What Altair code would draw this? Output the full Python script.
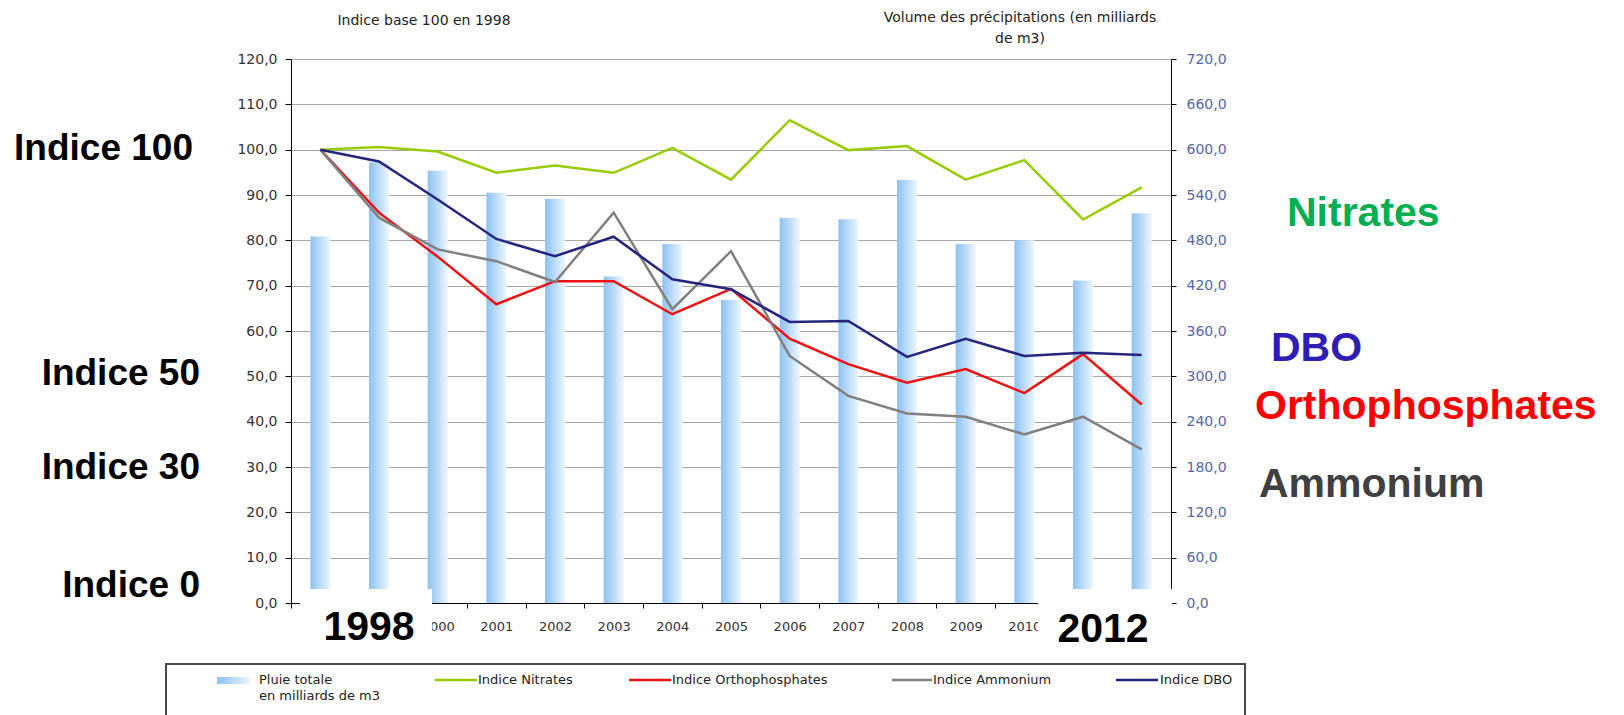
import altair as alt
import pandas as pd

# ---------------- data ----------------
years = ["1998", "1999", "2000", "2001", "2002", "2003", "2004", "2005",
         "2006", "2007", "2008", "2009", "2010", "2011", "2012"]
rain = [485, 583, 572, 543, 535, 432, 475, 401, 510, 508, 560, 475, 480, 427, 516]
nitrates = [100.0, 100.6, 99.6, 94.9, 96.5, 94.9, 100.4, 93.4, 106.5, 99.9, 100.8, 93.4, 97.7, 84.6, 91.7]
ortho = [100.0, 86.1, 76.4, 65.9, 71.0, 71.0, 63.7, 69.3, 58.3, 52.7, 48.6, 51.6, 46.3, 54.9, 43.8]
ammonium = [100.0, 85.0, 78.0, 75.4, 70.8, 86.1, 64.8, 77.6, 54.5, 45.7, 41.8, 41.1, 37.2, 41.1, 33.9]
dbo = [100.0, 97.4, 89.0, 80.3, 76.5, 80.8, 71.4, 69.2, 62.0, 62.2, 54.3, 58.3, 54.5, 55.2, 54.7]

series_names = ["Indice Nitrates", "Indice Orthophosphates", "Indice Ammonium", "Indice DBO"]
series_colors = ["#99cc00", "#ee1111", "#808080", "#25257f"]
left_ticks = [0, 10, 20, 30, 40, 50, 60, 70, 80, 90, 100, 110, 120]
right_ticks = [0, 60, 120, 180, 240, 300, 360, 420, 480, 540, 600, 660, 720]
masked_years = ["1998", "1999", "2011", "2012"]  # small axis labels hidden under the white boxes

bar_df = pd.DataFrame({"year": years, "rain": rain})
line_df = pd.DataFrame({
    "year": years * 4,
    "value": nitrates + ortho + ammonium + dbo,
    "series": sum([[n] * len(years) for n in series_names], []),
    "ord": sum([[i] * len(years) for i in range(4)], []),
})
one = pd.DataFrame({"k": [0]})

SMALL = "DejaVu Sans"
BIG = "Liberation Sans"
comma_fmt = "replace(format(datum.value, '.1f'), '.', ',')"
x_label_expr = "indexof(" + str(masked_years).replace("'", '"') + ", datum.label) >= 0 ? '' : datum.label"

bar_grad = alt.LinearGradient(
    gradient="linear",
    stops=[alt.GradientStop(color="#8ec2f1", offset=0),
           alt.GradientStop(color="#c0def9", offset=0.55),
           alt.GradientStop(color="#eef6fe", offset=1)],
    x1=0, x2=1, y1=0, y2=0,
)

x_scale = alt.Scale(domain=years, paddingInner=0, paddingOuter=0)
x_axis = alt.Axis(title=None, labelAngle=0, tickBand="extent", grid=False,
                  domainColor="#000000", tickColor="#000000", tickSize=5,
                  labelPadding=12, labelFont=SMALL, labelFontSize=13,
                  labelColor="#333333", labelBaseline="top", labelExpr=x_label_expr)

bars = alt.Chart(bar_df).mark_bar(size=20, color=bar_grad).encode(
    x=alt.X("year:N", sort=years, scale=x_scale, axis=x_axis),
    y=alt.Y("rain:Q", scale=alt.Scale(domain=[0, 720], nice=False, zero=True),
            axis=alt.Axis(orient="right", values=right_ticks, labelExpr=comma_fmt,
                          grid=False, title=None, domainColor="#000000",
                          tickColor="#000000", tickSize=5, labelPadding=10,
                          labelFont=SMALL, labelFontSize=14, labelColor="#5566aa")),
)

lines = alt.Chart(line_df).mark_line(strokeWidth=2.5).encode(
    x=alt.X("year:N", sort=years, scale=x_scale, axis=x_axis),
    y=alt.Y("value:Q", scale=alt.Scale(domain=[0, 120], nice=False),
            axis=alt.Axis(orient="left", values=left_ticks, labelExpr=comma_fmt,
                          grid=True, gridColor="#a8a8a8", gridWidth=1, title=None,
                          domainColor="#000000", tickColor="#000000", tickSize=6,
                          labelPadding=8, labelFont=SMALL, labelFontSize=14,
                          labelColor="#333333")),
    color=alt.Color("series:N", scale=alt.Scale(domain=series_names, range=series_colors),
                    legend=None),
    order=alt.Order("ord:Q"),
)


def text(t, x, y, size, color, align="left", weight="bold", font=BIG, line_height=None):
    kw = dict(text=t, align=align, baseline="alphabetic", fontSize=size,
              fontWeight=weight, font=font, color=color)
    if line_height is not None:
        kw["lineHeight"] = line_height
    return alt.Chart(one).mark_text(**kw).encode(x=alt.value(x), y=alt.value(y))


def box(x, x2, y, y2, **kw):
    return alt.Chart(one).mark_rect(**kw).encode(
        x=alt.value(x), x2=alt.value(x2), y=alt.value(y), y2=alt.value(y2))


def seg(x, x2, y, color):
    return alt.Chart(one).mark_rule(color=color, strokeWidth=2.5).encode(
        x=alt.value(x), x2=alt.value(x2), y=alt.value(y))


LY = 625  # legend text baseline (relative to plot top)

annotations = [
    # axis titles
    text("Indice base 100 en 1998", 133, -34, 14, "#222222", align="center", weight="normal", font=SMALL),
    text(["Volume des précipitations (en milliards", "de m3)"], 729, -37, 14, "#222222",
         align="center", weight="normal", font=SMALL, line_height=21),
    # white masks + years
    box(9, 141, 530, 590, color="white"),
    box(747, 881, 530, 590, color="white"),
    text("1998", 78, 581, 41, "#000000", align="center"),
    text("2012", 812, 583, 41, "#000000", align="center"),
    # left labels
    text("Indice 100", -98, 101, 37, "#000000", align="right"),
    text("Indice 50", -91, 326, 37, "#000000", align="right"),
    text("Indice 30", -91, 420, 37, "#000000", align="right"),
    text("Indice 0", -91, 538, 37, "#000000", align="right"),
    # right labels
    text("Nitrates", 996, 167, 41, "#00b050"),
    text("DBO", 980, 302, 41, "#2f1db5"),
    text("Orthophosphates", 964, 360, 41, "#ff0000"),
    text("Ammonium", 968, 438, 41, "#404040"),
    # legend
    box(-125, 954, 605, 700, fillOpacity=0, stroke="#4a4a4a", strokeWidth=2),
    box(-74, -41, 618, 625, color=bar_grad),
    text(["Pluie totale", "en milliards de m3"], -32, LY, 13, "#222222",
         weight="normal", font=SMALL, line_height=16),
    seg(144, 186, LY - 4, series_colors[0]),
    text(series_names[0], 187, LY, 13, "#222222", weight="normal", font=SMALL),
    seg(338, 380, LY - 4, series_colors[1]),
    text(series_names[1], 381, LY, 13, "#222222", weight="normal", font=SMALL),
    seg(601, 641, LY - 4, series_colors[2]),
    text(series_names[2], 642, LY, 13, "#222222", weight="normal", font=SMALL),
    seg(825, 867, LY - 4, series_colors[3]),
    text(series_names[3], 869, LY, 13, "#222222", weight="normal", font=SMALL),
]

chart = alt.layer(bars, lines, *annotations).resolve_scale(
    y="independent"
).properties(
    width=880, height=544,
    padding={"left": 291, "top": 59, "right": 453, "bottom": 112},
    autosize=alt.AutoSizeParams(type="none"),
    background="white",
).configure_view(stroke="transparent")

chart.save("out.html", embed_options={"renderer": "svg", "actions": False})
